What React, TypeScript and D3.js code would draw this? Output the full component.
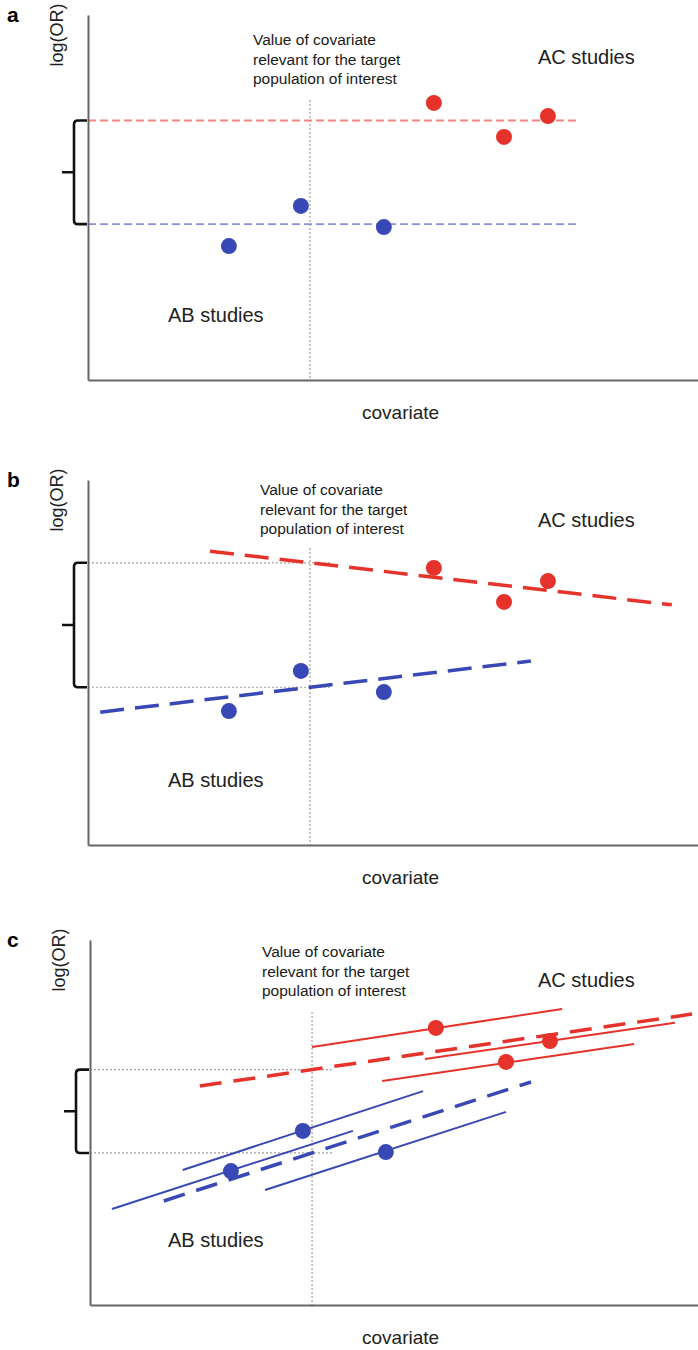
import React, { useEffect, useRef } from 'react';
import * as d3 from 'd3';

// study estimates (covariate, log odds ratio), same in all three panels
const abCovariate = [2.31, 3.49, 4.85];
const abLogOR = [3.67, 4.77, 4.19];
const acCovariate = [5.67, 6.82, 7.54];
const acLogOR = [7.59, 6.66, 7.23];

// covariate value of the target population
const targetCovariate = 3.64;

// panel a: plain pooled means, drawn over this covariate range
const abMean = 4.27;
const acMean = 7.11;
const meanRange = [0, 8.03];

// panel b: meta-regression lines [x1, y1, x2, y2]
const abRegB = [0.2, 3.64, 7.26, 5.04];
const acRegB = [2.0, 8.05, 9.57, 6.58];

// panel c: regression lines and within-study lines [x1, y1, x2, y2]
const abRegC = [1.21, 2.85, 7.23, 6.11];
const acRegC = [1.8, 6.0, 9.87, 7.97];
const abWithin = [
  [0.36, 2.63, 4.31, 4.77],
  [1.52, 3.7, 5.46, 5.86],
  [2.87, 3.15, 6.82, 5.29],
];
const acWithin = [
  [3.64, 7.07, 7.74, 8.11],
  [4.79, 6.14, 8.92, 7.15],
  [5.49, 6.74, 9.59, 7.73],
];

// top of the vertical reference line in each panel, end of horizontal guides
const refTop = { a: 7.67, b: 8.14, c: 8.03 };
const guideEnd = 4.0;

const annotation = ['Value of covariate', 'relevant for the target', 'population of interest'];

const RED = '#e5322b';
const BLUE = '#3848b4';
const RED_LIGHT = '#f4867e';
const BLUE_LIGHT = '#8593dc';
const FONT = "'Liberation Sans', Arial, Helvetica, sans-serif";

const panels = [
  { id: 'a', left: 88, top: 15, noteX: 253, noteY: 45 },
  { id: 'b', left: 88, top: 480, noteX: 260, noteY: 495 },
  { id: 'c', left: 90, top: 940, noteX: 262, noteY: 957 },
];

const App = () => {
  const svgRef = useRef(null);

  useEffect(() => {
    const root = d3.select(svgRef.current);
    root.selectAll('*').remove();

    const width = 610;
    const height = 365;
    const x = d3.scaleLinear().domain([0, 10]).range([0, width]);
    const y = d3.scaleLinear().domain([0, 10]).range([height, 0]);
    const lineGen = d3.line<number[]>().x(d => x(d[0])).y(d => y(d[1]));
    const seg = (s: number[]) => lineGen([[s[0], s[1]], [s[2], s[3]]]);
    const at = (s: number[], v: number) => s[1] + ((s[3] - s[1]) * (v - s[0])) / (s[2] - s[0]);

    const ab = abCovariate.map((c, i) => [c, abLogOR[i]]);
    const ac = acCovariate.map((c, i) => [c, acLogOR[i]]);

    panels.forEach(p => {
      const g = root.append('g').attr('transform', `translate(${p.left}, ${p.top})`);

      // reference line at target covariate
      g.append('line')
        .attr('x1', x(targetCovariate))
        .attr('x2', x(targetCovariate))
        .attr('y1', y(refTop[p.id]))
        .attr('y2', y(0))
        .attr('stroke', '#a0a0a0')
        .attr('stroke-width', 1.2)
        .attr('stroke-dasharray', '2,2');

      let hiVal = acMean;
      let loVal = abMean;

      if (p.id === 'a') {
        g.append('path')
          .attr('d', seg([meanRange[0], acMean, meanRange[1], acMean]))
          .attr('stroke', RED_LIGHT)
          .attr('stroke-width', 1.8)
          .attr('stroke-dasharray', '8,4')
          .attr('fill', 'none');
        g.append('path')
          .attr('d', seg([meanRange[0], abMean, meanRange[1], abMean]))
          .attr('stroke', BLUE_LIGHT)
          .attr('stroke-width', 1.8)
          .attr('stroke-dasharray', '8,4')
          .attr('fill', 'none');
      } else {
        const abReg = p.id === 'b' ? abRegB : abRegC;
        const acReg = p.id === 'b' ? acRegB : acRegC;
        hiVal = at(acReg, targetCovariate);
        loVal = at(abReg, targetCovariate);

        [hiVal, loVal].forEach(v => {
          g.append('line')
            .attr('x1', x(0))
            .attr('x2', x(guideEnd))
            .attr('y1', y(v))
            .attr('y2', y(v))
            .attr('stroke', '#a0a0a0')
            .attr('stroke-width', 1.2)
            .attr('stroke-dasharray', '2,2');
        });

        if (p.id === 'c') {
          abWithin.forEach(s => {
            g.append('path').attr('d', seg(s)).attr('stroke', BLUE).attr('stroke-width', 2).attr('fill', 'none');
          });
          acWithin.forEach(s => {
            g.append('path').attr('d', seg(s)).attr('stroke', RED).attr('stroke-width', 2).attr('fill', 'none');
          });
        }

        g.append('path')
          .attr('d', seg(acReg))
          .attr('stroke', RED)
          .attr('stroke-width', 3.5)
          .attr('stroke-dasharray', p.id === 'b' ? '24,11' : '22,12')
          .attr('fill', 'none');
        g.append('path')
          .attr('d', seg(abReg))
          .attr('stroke', BLUE)
          .attr('stroke-width', 3.5)
          .attr('stroke-dasharray', p.id === 'b' ? '24,11' : '22,12')
          .attr('fill', 'none');
      }

      // study points
      g.selectAll('.ab')
        .data(ab)
        .enter()
        .append('circle')
        .attr('cx', d => x(d[0]))
        .attr('cy', d => y(d[1]))
        .attr('r', 8)
        .attr('fill', BLUE);
      g.selectAll('.ac')
        .data(ac)
        .enter()
        .append('circle')
        .attr('cx', d => x(d[0]))
        .attr('cy', d => y(d[1]))
        .attr('r', 8)
        .attr('fill', RED);

      // axes (no ticks)
      g.append('g')
        .attr('transform', `translate(0, ${height})`)
        .call(d3.axisBottom(x).tickValues([]).tickSizeOuter(0))
        .select('.domain')
        .attr('stroke', '#666')
        .attr('stroke-width', 2);
      g.append('g')
        .call(d3.axisLeft(y).tickValues([]).tickSizeOuter(0))
        .select('.domain')
        .attr('stroke', '#666')
        .attr('stroke-width', 2);

      // brace between the two estimates
      const y1 = y(hiVal);
      const y2 = y(loVal);
      const ym = (y1 + y2) / 2;
      const b = -14;
      const tip = -26;
      g.append('path')
        .attr(
          'd',
          `M -1 ${y1} H ${b + 4} Q ${b} ${y1} ${b} ${y1 + 4} V ${y2 - 4} Q ${b} ${y2} ${b + 4} ${y2} H -1 M ${b} ${ym} H ${tip}`
        )
        .attr('stroke', '#111')
        .attr('stroke-width', 2.6)
        .attr('fill', 'none');

      // texts
      root.append('text')
        .attr('x', 7)
        .attr('y', p.top + 7)
        .attr('font-family', FONT)
        .attr('font-weight', 'bold')
        .attr('font-size', 21)
        .text(p.id);

      root.append('text')
        .attr('transform', `translate(${p.left - 25}, ${p.top + 20}) rotate(-90)`)
        .attr('text-anchor', 'middle')
        .attr('font-family', FONT)
        .attr('font-size', 18)
        .attr('fill', '#222')
        .text('log(OR)');

      const note = root.append('text')
        .attr('font-family', FONT)
        .attr('font-size', 15.5)
        .attr('fill', '#1a1a1a');
      annotation.forEach((t, i) => {
        note.append('tspan').attr('x', p.noteX).attr('y', p.noteY + i * 19.5).text(t);
      });

      root.append('text')
        .attr('x', 538)
        .attr('y', p.top + (p.id === 'a' ? 49 : 47))
        .attr('font-family', FONT)
        .attr('font-size', 20)
        .attr('fill', '#222')
        .text('AC studies');

      root.append('text')
        .attr('x', 168)
        .attr('y', p.top + 307)
        .attr('font-family', FONT)
        .attr('font-size', 20)
        .attr('fill', '#222')
        .text('AB studies');

      root.append('text')
        .attr('x', 362)
        .attr('y', p.top + height + 39)
        .attr('font-family', FONT)
        .attr('font-size', 19)
        .attr('fill', '#222')
        .text('covariate');
    });
  }, []);

  return (
    <svg
      ref={svgRef}
      width={698}
      height={1350}
      style={{ position: 'absolute', left: 0, top: 0, background: '#fff' }}
    />
  );
};

export default App;
